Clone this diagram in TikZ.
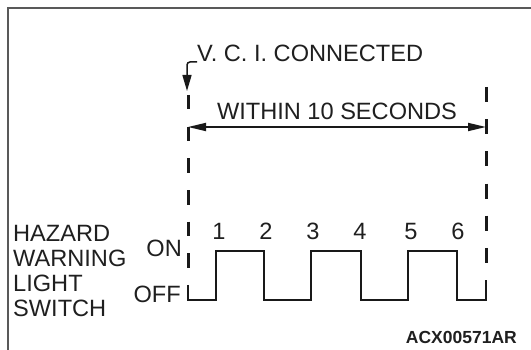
\documentclass[tikz,border=0pt]{standalone}
\usepackage{fontspec}
\setmainfont{Liberation Sans}
\usetikzlibrary{arrows.meta}
\begin{document}
\begin{tikzpicture}[x=1pt,y=-1pt,
  lbl/.style={inner sep=0pt, font=\fontsize{23.6}{25}\selectfont, text=black!88},
  codelbl/.style={inner sep=0pt, font=\bfseries\fontsize{17.5}{19}\selectfont, text=black!88},
  guideL/.style={line width=3pt, draw=black!90, dash pattern=on 14.5pt off 17.17pt},
  guideR/.style={line width=3pt, draw=black!90, dash pattern=on 15pt off 17.17pt},
  wave/.style={line width=2pt, draw=black!90, line join=miter},
  frame/.style={line width=2pt, draw=black!65},
  dimarrow/.style={line width=1.8pt, draw=black!90, {Triangle[length=18pt,width=8pt]}-{Triangle[length=18pt,width=8pt]}},
  leader/.style={line width=1.5pt, draw=black!90, rounded corners=3pt, -{Triangle[length=16pt,width=9pt]}}]

\useasboundingbox (0,0) rectangle (531,350);
\draw[frame] (8,350) -- (8,8) -- (531,8);

% guide lines
\coordinate (Ltop) at (188,95);
\coordinate (Lbot) at (188,285);
\coordinate (Rtop) at (486,87);
\coordinate (Rbot) at (486,280);
\draw[guideL] (Ltop) -- (Lbot);
\draw[guideR] (Rtop) -- (Rbot);

% waveform
\draw[wave] (Lbot) -- (188,300) -- (216,300) -- (216,251) -- (264,251) -- (264,300)
  -- (311,300) -- (311,251) -- (361,251) -- (361,300) -- (408,300) -- (408,251)
  -- (457,251) -- (457,300) -- (486,300) -- (Rbot);

% dimension arrow
\coordinate (As) at (188,127);
\coordinate (Ae) at (486,127);
\draw[dimarrow] (As) -- (Ae);
\node[lbl, anchor=base] (within) at (337,120) {WITHIN 10 SECONDS};

% V.C.I. label and leader
\node[lbl, anchor=base west] (vci) at (197,62) {V. C. I. CONNECTED};
\coordinate (vtip) at (187,91);
\draw[leader] (vci.base west) -| (vtip);

% pulse numbers
\node[lbl, anchor=base] (n1) at (219,240) {1};
\node[lbl, anchor=base] (n2) at (266,240) {2};
\node[lbl, anchor=base] (n3) at (313,240) {3};
\node[lbl, anchor=base] (n4) at (360,240) {4};
\node[lbl, anchor=base] (n5) at (411,240) {5};
\node[lbl, anchor=base] (n6) at (458,240) {6};

% level labels
\node[lbl, anchor=base east] (on) at (182,257) {ON};
\node[lbl, anchor=base east] (off) at (181,302) {OFF};
\node[lbl, anchor=north west, align=left] (hz) at (13,225) {HAZARD\\WARNING\\LIGHT\\SWITCH};

\node[codelbl, anchor=base east] (code) at (517,344) {ACX00571AR};
\end{tikzpicture}
\end{document}
